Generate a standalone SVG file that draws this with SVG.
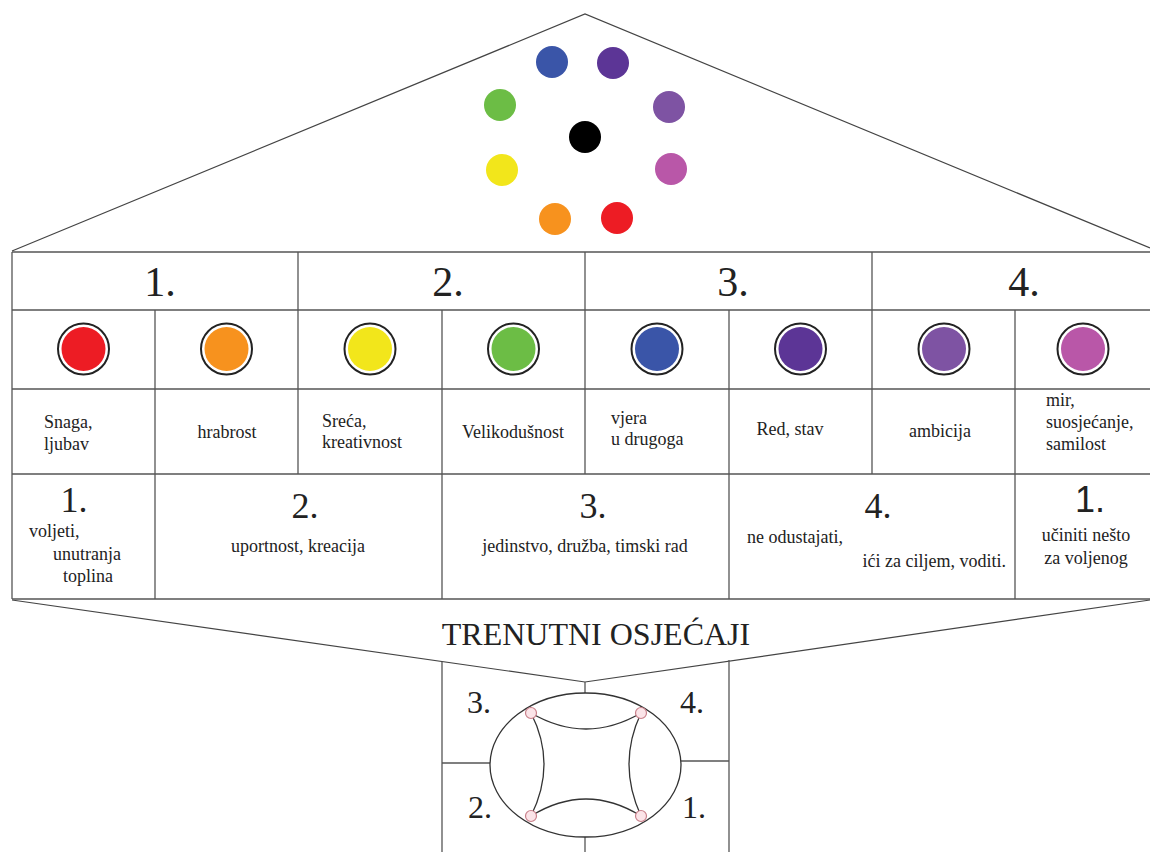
<svg xmlns="http://www.w3.org/2000/svg" width="1150" height="852" viewBox="0 0 1150 852">
<style>
.ln{stroke:#555;stroke-width:1.3;fill:none}
.rf{stroke:#444;stroke-width:1.2;fill:none}
.t{font-family:"Liberation Serif","Times New Roman",serif;font-size:18px;fill:#222}
.hn{font-family:"Liberation Serif","Times New Roman",serif;font-size:42px;fill:#222;text-anchor:middle}
.bn{font-family:"Liberation Serif","Times New Roman",serif;font-size:36px;fill:#222;text-anchor:middle}
.qn{font-family:"Liberation Serif","Times New Roman",serif;font-size:32px;fill:#222}
.m{text-anchor:middle}
.e{text-anchor:end}
.ring{fill:#fff;stroke:#222;stroke-width:2}
.knot{fill:#fbe4e8;stroke:#c9808b;stroke-width:1.2}
</style>
<rect width="1150" height="852" fill="#fff"/>
<g id="connectors">
  <polyline class="rf" points="12,251 585,14 1150,248"/>
  <polyline class="rf" points="12,600 585,682 1150,600"/>
  <line class="ln" x1="585" y1="682" x2="585" y2="693"/>
  <line class="ln" x1="585" y1="837" x2="585" y2="852"/>
</g>
<g id="roof-dots">
  <circle cx="552" cy="62" r="16" fill="#3a55a8"/>
  <circle cx="613" cy="63" r="16" fill="#5c3596"/>
  <circle cx="500" cy="105" r="16" fill="#6cbd45"/>
  <circle cx="669" cy="107" r="16" fill="#7e53a3"/>
  <circle cx="585" cy="137" r="16" fill="#000"/>
  <circle cx="502" cy="170" r="16" fill="#f2e61b"/>
  <circle cx="671" cy="169" r="16" fill="#b957a8"/>
  <circle cx="555" cy="219" r="16" fill="#f7921e"/>
  <circle cx="617" cy="218" r="16" fill="#ed1c24"/>
</g>
<g id="table-grid">
  <line class="ln" x1="12" y1="252" x2="1150" y2="252"/>
  <line class="ln" x1="12" y1="310" x2="1150" y2="310"/>
  <line class="ln" x1="12" y1="389" x2="1150" y2="389"/>
  <line class="ln" x1="12" y1="474" x2="1150" y2="474"/>
  <line class="ln" x1="12" y1="599" x2="1150" y2="599"/>
  <line class="ln" x1="12" y1="252" x2="12" y2="599"/>
  <line class="ln" x1="298" y1="252" x2="298" y2="474"/>
  <line class="ln" x1="585" y1="252" x2="585" y2="474"/>
  <line class="ln" x1="872" y1="252" x2="872" y2="474"/>
  <line class="ln" x1="155" y1="310" x2="155" y2="599"/>
  <line class="ln" x1="442" y1="310" x2="442" y2="599"/>
  <line class="ln" x1="729" y1="310" x2="729" y2="599"/>
  <line class="ln" x1="1015" y1="310" x2="1015" y2="599"/>
</g>
<g id="header-1"><text class="hn" x="160" y="296">1.</text></g>
<g id="header-2"><text class="hn" x="448" y="296">2.</text></g>
<g id="header-3"><text class="hn" x="733" y="296">3.</text></g>
<g id="header-4"><text class="hn" x="1024" y="296">4.</text></g>
<g id="color-red"><circle class="ring" cx="83.5" cy="349" r="25.5"/><circle cx="83.5" cy="349" r="22" fill="#ed1c24"/></g>
<g id="color-orange"><circle class="ring" cx="226.5" cy="349" r="25.5"/><circle cx="226.5" cy="349" r="22" fill="#f7921e"/></g>
<g id="color-yellow"><circle class="ring" cx="370" cy="349" r="25.5"/><circle cx="370" cy="349" r="22" fill="#f2e61b"/></g>
<g id="color-green"><circle class="ring" cx="513.5" cy="349" r="25.5"/><circle cx="513.5" cy="349" r="22" fill="#6cbd45"/></g>
<g id="color-blue"><circle class="ring" cx="657" cy="349" r="25.5"/><circle cx="657" cy="349" r="22" fill="#3a55a8"/></g>
<g id="color-indigo"><circle class="ring" cx="800.5" cy="349" r="25.5"/><circle cx="800.5" cy="349" r="22" fill="#5c3596"/></g>
<g id="color-violet"><circle class="ring" cx="944" cy="349" r="25.5"/><circle cx="944" cy="349" r="22" fill="#7e53a3"/></g>
<g id="color-pink"><circle class="ring" cx="1083" cy="349" r="25.5"/><circle cx="1083" cy="349" r="22" fill="#b957a8"/></g>
<g id="quality-1"><text class="t" x="44" y="428">Snaga,</text><text class="t" x="44" y="450">ljubav</text></g>
<g id="quality-2"><text class="t m" x="227" y="438">hrabrost</text></g>
<g id="quality-3"><text class="t" x="322" y="427">Sreća,</text><text class="t" x="322" y="448">kreativnost</text></g>
<g id="quality-4"><text class="t m" x="513" y="438">Velikodušnost</text></g>
<g id="quality-5"><text class="t" x="611" y="424">vjera</text><text class="t" x="611" y="445">u drugoga</text></g>
<g id="quality-6"><text class="t m" x="790" y="435">Red, stav</text></g>
<g id="quality-7"><text class="t m" x="940" y="437">ambicija</text></g>
<g id="quality-8"><text class="t" x="1046" y="406">mir,</text><text class="t" x="1046" y="428">suosjećanje,</text><text class="t" x="1046" y="450">samilost</text></g>
<g id="stage-1a"><text class="bn" x="74" y="512">1.</text><text class="t" x="29" y="537">voljeti,</text><text class="t" x="53" y="560">unutranja</text><text class="t" x="63" y="582">toplina</text></g>
<g id="stage-2"><text class="bn" x="305" y="518">2.</text><text class="t m" x="298" y="552">uportnost, kreacija</text></g>
<g id="stage-3"><text class="bn" x="593" y="518">3.</text><text class="t m" x="585" y="552">jedinstvo, družba, timski rad</text></g>
<g id="stage-4"><text class="bn" x="878" y="518">4.</text><text class="t" x="747" y="543">ne odustajati,</text><text class="t e" x="1006" y="567">ići za ciljem, voditi.</text></g>
<g id="stage-1b"><text class="bn" x="1090" y="512" style="font-family:'Liberation Sans',Arial,sans-serif">1.</text><text class="t m" x="1086" y="541">učiniti nešto</text><text class="t m" x="1086" y="564">za voljenog</text></g>
<g id="title"><text class="qn" x="596" y="645" text-anchor="middle">TRENUTNI OSJEĆAJI</text></g>
<g id="feelings-box">
  <line class="ln" x1="442" y1="662" x2="442" y2="852"/>
  <line class="ln" x1="729" y1="660" x2="729" y2="852"/>
  <line class="ln" x1="442" y1="763" x2="490" y2="763"/>
  <line class="ln" x1="681" y1="761" x2="729" y2="761"/>
  <ellipse cx="585.5" cy="765" rx="95.5" ry="72" fill="none" stroke="#333" stroke-width="1.3"/>
  <path d="M531,713 Q586,745 641,713 M531,816 Q586,782 641,816 M531,713 Q557,764 531,816 M641,713 Q617,764 641,816" fill="none" stroke="#333" stroke-width="1.3"/>
  <circle class="knot" cx="531" cy="713" r="5.5"/>
  <circle class="knot" cx="641" cy="713" r="5.5"/>
  <circle class="knot" cx="531" cy="816" r="5.5"/>
  <circle class="knot" cx="641" cy="816" r="5.5"/>
  <text class="qn" x="467" y="713">3.</text>
  <text class="qn" x="680" y="713">4.</text>
  <text class="qn" x="468" y="818">2.</text>
  <text class="qn" x="682" y="818">1.</text>
</g>
</svg>
